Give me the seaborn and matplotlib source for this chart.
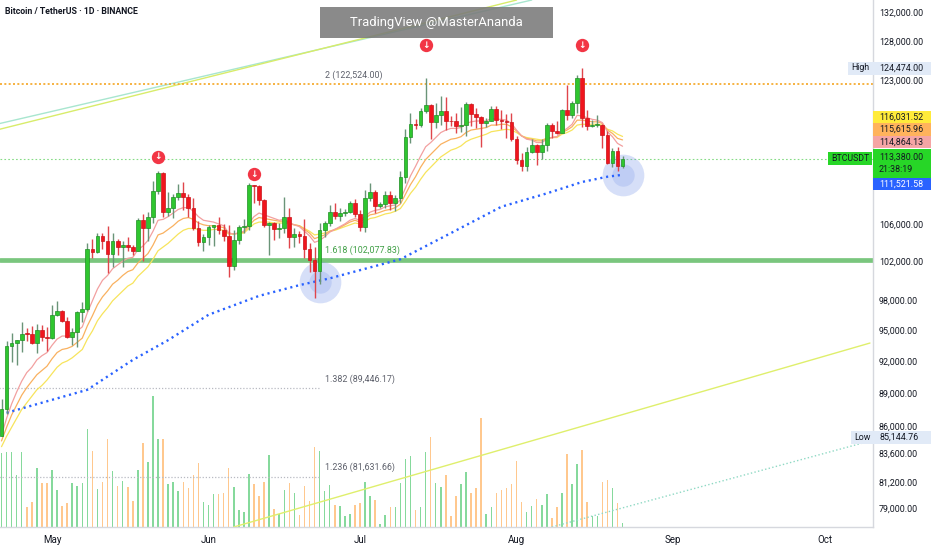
import numpy as np
import pandas as pd
import matplotlib
matplotlib.use("Agg")
import matplotlib.pyplot as plt
import matplotlib.dates as mdates
from matplotlib.patches import Rectangle
from matplotlib.ticker import FixedLocator, NullLocator
import seaborn as sns

# ===============================
# Data (BTCUSDT daily)
# ===============================
dates = pd.date_range("2025-04-21", "2025-08-22", freq="D")

opens = [
    85170, 87516, 93442, 93691, 93980, 94638, 94628, 93750, 94979, 94284,
    94207, 96492, 96910, 95891, 94315, 94748, 96802, 97032, 103241, 102971,
    104696, 104118, 102791, 104103, 103507, 103764, 103463, 103126, 106455, 105606,
    106791, 109643, 111696, 107318, 107761, 109004, 109434, 108938, 107781, 105589,
    103985, 104591, 105642, 105857, 105376, 104696, 101508, 104288, 105615, 105793,
    110295, 110257, 108686, 105929, 106090, 105472, 105553, 106794, 104551, 104886,
    104658, 103297, 102120, 100963, 105333, 106084, 107278, 106817, 107162, 107298,
    108356, 107135, 105681, 108849, 109584, 107984, 108198, 109203, 108262, 108922,
    111233, 115987, 117516, 117435, 119086, 119841, 117758, 118631, 119177, 117924,
    117840, 117265, 117380, 119954, 118755, 118340, 117614, 117919, 119416, 118062,
    117939, 117803, 115764, 113297, 112546, 114208, 115055, 114129, 114992, 117472,
    116674, 116462, 119294, 118686, 120134, 123306, 118295, 117342, 117380, 117405,
    116227, 112872, 114271, 112500,
]
highs = [
    88460, 93888, 94696, 94000, 95758, 95200, 95369, 95630, 95470, 95245,
    97437, 97895, 96939, 96318, 95199, 96888, 97732, 103971, 104361, 104984,
    105000, 105819, 104976, 104356, 104192, 104550, 103709, 106660, 107108, 107320,
    110797, 111980, 111800, 109506, 109300, 110422, 110718, 109312, 108910, 106313,
    104900, 105866, 105935, 106794, 106000, 105909, 105333, 105900, 106488, 110530,
    110400, 110384, 108780, 106182, 106200, 106128, 108952, 107750, 105550, 105226,
    106545, 103982, 103500, 106128, 106290, 108135, 108272, 107735, 107592, 108528,
    108789, 107540, 109730, 110529, 109767, 108380, 109700, 109700, 109216, 111999,
    116868, 118870, 118200, 119488, 123218, 119940, 120063, 120998, 120820, 118499,
    118856, 119676, 120247, 120090, 119450, 118451, 118297, 119766, 119800, 119273,
    118792, 118922, 116052, 114036, 114799, 115720, 115127, 115716, 117630, 117700,
    117944, 119311, 122335, 120324, 123667, 124474, 119216, 117999, 118575, 117543,
    116725, 114616, 114821, 113700,
]
lows = [
    85144.76, 87076, 91935, 91660, 92855, 93875, 93602, 92800, 93930, 92910,
    94153, 96350, 95753, 94171, 93514, 93377, 95770, 96876, 102316, 102818,
    103300, 100718, 101429, 102602, 101383, 103100, 102612, 103105, 102000, 104192,
    106100, 109285, 106800, 106876, 106600, 108670, 107516, 106812, 105322, 103621,
    103068, 103752, 103659, 104872, 104179, 100372, 101095, 103871, 105000, 105318,
    108331, 108086, 105671, 102664, 104300, 104494, 104980, 103371, 103500, 103900,
    102345, 100837, 98200, 99588, 104622, 105808, 106562, 106355, 106850, 107211,
    106733, 105250, 105100, 108530, 107245, 107800, 107800, 107513, 107429, 108324,
    110582, 115222, 116900, 117224, 118905, 115736, 117017, 117453, 116812, 117277,
    116467, 116515, 116128, 117301, 117103, 114723, 117158, 117840, 117427, 116950,
    115796, 115500, 112722, 112000, 111920, 114107, 112650, 113355, 114259, 115878,
    116299, 116461, 118050, 118207, 118920, 117180, 116803, 117172, 117172, 114640,
    112733, 112380, 112000, 112300,
]
closes = [
    87516, 93442, 93691, 93980, 94638, 94628, 93750, 94979, 94284, 94207,
    96492, 96910, 95891, 94315, 94748, 96802, 97032, 103241, 102971, 104696,
    104118, 102791, 104103, 103507, 103764, 103463, 103126, 106455, 105606, 106791,
    109643, 111696, 107318, 107761, 109004, 109434, 108938, 107781, 105589, 103985,
    104591, 105642, 105857, 105376, 104696, 101508, 104288, 105615, 105793, 110295,
    110257, 108686, 105929, 106090, 105472, 105553, 106794, 104551, 104886, 104658,
    103297, 102120, 100963, 105333, 106084, 107278, 106817, 107162, 107298, 108356,
    107135, 105681, 108849, 109584, 107984, 108198, 109203, 108262, 108922, 111233,
    115987, 117516, 117435, 119086, 119841, 117758, 118631, 119177, 117924, 117840,
    117265, 117380, 119954, 118755, 118340, 117614, 117919, 119416, 118062, 117939,
    117803, 115764, 113297, 112546, 114208, 115055, 114129, 114992, 117472, 116674,
    116462, 119294, 118686, 120134, 123306, 118295, 117342, 117380, 117405, 116227,
    112872, 114271, 112500, 113380,
]
# volume (relative units)
volumes = [
    25.0, 25.4, 25.4, 17.4, 25.4, 6.6, 8.6, 20.0, 15.0, 15.0,
    19.2, 12.4, 7.2, 8.0, 14.8, 13.8, 14.8, 33.2, 25.6, 12.8,
    15.2, 29.6, 18.8, 14.0, 15.6, 13.4, 8.8, 19.4, 28.2, 21.8,
    44.2, 29.8, 29.8, 14.6, 15.2, 12.0, 15.2, 13.2, 17.6, 21.6,
    8.6, 7.4, 11.0, 11.0, 11.6, 20.0, 13.4, 5.6, 5.0, 17.8,
    14.6, 10.6, 15.2, 24.2, 6.0, 4.4, 12.4, 14.9, 11.4, 4.2,
    13.8, 8.8, 26.9, 25.7, 12.2, 14.3, 7.4, 7.2, 3.8, 4.4,
    7.4, 8.0, 15.2, 10.6, 9.2, 1.0, 4.2, 6.6, 6.6, 14.8,
    22.8, 23.9, 5.9, 6.8, 25.4, 30.2, 14.8, 13.6, 17.6, 3.8,
    10.4, 14.6, 18.6, 11.6, 13.2, 36.8, 4.4, 6.6, 11.6, 12.6,
    13.0, 14.4, 22.4, 8.6, 5.0, 7.1, 9.4, 7.4, 11.0, 3.0,
    6.6, 11.6, 24.6, 14.4, 21.2, 26.0, 8.4, 3.8, 3.6, 15.2,
    15.8, 13.1, 8.0, 1.2,
]

# moving averages (thousands USDT)
ma_fast = [
    85.2, 86.7, 88.0, 89.1, 90.1, 90.9, 91.4, 92.1, 92.5, 92.8,
    93.5, 94.1, 94.4, 94.4, 94.5, 94.9, 95.3, 96.7, 97.9, 99.1,
    100.0, 100.5, 101.2, 101.6, 102.0, 102.3, 102.4, 103.2, 103.6, 104.2,
    105.2, 106.4, 106.5, 106.8, 107.2, 107.6, 107.8, 107.8, 107.4, 106.8,
    106.4, 106.3, 106.2, 106.0, 105.8, 105.0, 104.9, 105.0, 105.2, 106.1,
    106.8, 107.2, 107.0, 106.8, 106.6, 106.4, 106.5, 106.1, 105.9, 105.7,
    105.2, 104.7, 104.0, 104.2, 104.6, 105.1, 105.4, 105.7, 106.0, 106.4,
    106.6, 106.4, 106.8, 107.3, 107.5, 107.6, 107.9, 108.0, 108.1, 108.7,
    110.0, 111.4, 112.5, 113.7, 114.8, 115.3, 115.9, 116.5, 116.8, 117.0,
    117.0, 117.1, 117.6, 117.8, 117.9, 117.9, 117.9, 118.2, 118.1, 118.1,
    118.0, 117.6, 116.8, 116.1, 115.7, 115.6, 115.3, 115.3, 115.7, 115.9,
    116.0, 116.6, 117.0, 117.5, 118.6, 118.5, 118.3, 118.1, 118.0, 117.7,
    116.6, 116.0, 115.2, 114.86413,
]
ma_mid = [
    84.7, 85.9, 87.0, 87.9, 88.8, 89.5, 90.1, 90.7, 91.1, 91.5,
    92.2, 92.8, 93.1, 93.2, 93.4, 93.8, 94.2, 95.4, 96.4, 97.5,
    98.3, 98.9, 99.6, 100.0, 100.5, 100.9, 101.1, 101.8, 102.3, 102.8,
    103.7, 104.8, 105.0, 105.4, 105.8, 106.3, 106.6, 106.7, 106.5, 106.1,
    105.9, 105.8, 105.8, 105.7, 105.6, 105.0, 104.9, 105.0, 105.1, 105.8,
    106.4, 106.7, 106.6, 106.5, 106.4, 106.3, 106.3, 106.1, 105.9, 105.8,
    105.4, 105.0, 104.4, 104.6, 104.8, 105.2, 105.4, 105.6, 105.9, 106.2,
    106.4, 106.2, 106.6, 107.0, 107.1, 107.3, 107.5, 107.6, 107.8, 108.2,
    109.3, 110.4, 111.3, 112.4, 113.3, 113.9, 114.5, 115.1, 115.4, 115.7,
    115.8, 116.0, 116.5, 116.8, 116.9, 117.0, 117.1, 117.4, 117.4, 117.5,
    117.5, 117.2, 116.7, 116.1, 115.8, 115.7, 115.5, 115.5, 115.8, 115.9,
    116.0, 116.5, 116.8, 117.2, 118.0, 118.0, 117.9, 117.8, 117.8, 117.6,
    116.8, 116.4, 115.8, 115.61596,
]
ma_slow = [
    84.2, 85.1, 85.9, 86.7, 87.5, 88.1, 88.7, 89.3, 89.7, 90.2,
    90.8, 91.4, 91.8, 92.0, 92.3, 92.7, 93.1, 94.1, 94.9, 95.9,
    96.6, 97.2, 97.9, 98.4, 98.9, 99.4, 99.7, 100.4, 100.9, 101.4,
    102.2, 103.1, 103.5, 103.9, 104.4, 104.9, 105.3, 105.5, 105.5, 105.4,
    105.3, 105.3, 105.4, 105.4, 105.3, 104.9, 104.9, 105.0, 105.0, 105.5,
    106.0, 106.2, 106.2, 106.2, 106.1, 106.1, 106.1, 106.0, 105.9, 105.8,
    105.5, 105.2, 104.8, 104.9, 105.0, 105.2, 105.3, 105.5, 105.7, 105.9,
    106.1, 106.0, 106.3, 106.6, 106.7, 106.9, 107.1, 107.2, 107.4, 107.7,
    108.5, 109.4, 110.1, 111.0, 111.8, 112.4, 113.0, 113.6, 114.0, 114.4,
    114.6, 114.9, 115.4, 115.7, 115.9, 116.1, 116.3, 116.6, 116.7, 116.8,
    116.9, 116.8, 116.5, 116.1, 115.9, 115.8, 115.7, 115.6, 115.8, 115.9,
    115.9, 116.3, 116.5, 116.8, 117.4, 117.5, 117.5, 117.5, 117.5, 117.4,
    116.9, 116.7, 116.3, 116.03152,
]
# long moving average (blue dotted), sampled points
ma_long_dates = ["2025-04-22", "2025-05-08", "2025-05-17", "2025-05-24", "2025-06-01",
                 "2025-06-11", "2025-06-19", "2025-06-25", "2025-07-09", "2025-07-19",
                 "2025-07-29", "2025-08-07", "2025-08-14", "2025-08-19", "2025-08-22"]
ma_long = [87.2, 89.3, 92.1, 94.0, 96.5, 98.4, 99.5, 100.2, 102.2, 105.0,
           107.9, 109.4, 110.7, 111.3, 111.52158]

# fibonacci levels
fib_levels = [122524.00, 102077.83, 89446.17, 81631.66]
fib_names = ["2 (122,524.00)", "1.618 (102,077.83)", "1.382 (89,446.17)", "1.236 (81,631.66)"]
fib_label_date = "2025-06-24"
fib_short_end = "2025-06-23"

# drawn trend lines: (start date, start price, end date, end price)
trend_lines = [
    ("2025-04-20", 117500, "2025-08-04", 133600, "#a8e6cf", "-"),
    ("2025-04-20", 116800, "2025-08-01", 133600, "#d8ec6a", "-"),
    ("2025-06-06", 77490, "2025-10-10", 93720, "#dfef6c", "-"),
    ("2025-08-08", 77490, "2025-10-10", 84690, "#8fd9c4", ":"),
]

# sell signals and highlighted touches
signal_dates = ["2025-05-22", "2025-06-10", "2025-07-14", "2025-08-14"]
signal_prices = [113600, 111600, 127500, 127500]
touch_dates = ["2025-06-23", "2025-08-22"]
touch_prices = [99820, 111520]

y_ticks = [132000, 128000, 123000, 106000, 102000, 98000, 95000, 92000,
           89000, 86000, 83600, 81200, 79000]

# ===============================
# Style
# ===============================
sns.set_theme(style="white")
plt.rcParams["font.family"] = ["Roboto", "DejaVu Sans"]
TXT = "#131722"
GREEN = "#2fc62f"
RED = "#f0151d"

W, H = 932, 550
PR, PB = 873, 527  # plot right edge / bottom edge in pixels

fig = plt.figure(figsize=(W / 100, H / 100), dpi=100)
fig.patch.set_facecolor("white")
ax = fig.add_axes([0, (H - PB) / H, PR / W, PB / H])
axv = ax.twinx()
ax.set_zorder(axv.get_zorder() + 1)
ax.patch.set_visible(False)

x = mdates.date2num(dates)
o = np.array(opens, dtype=float)
h = np.array(highs, dtype=float)
l = np.array(lows, dtype=float)
c = np.array(closes, dtype=float)
up = c >= o

# volume
vol_colors = np.where(up, "#86d99c", "#ffc88e")
axv.bar(x, volumes, width=0.3, color=vol_colors, linewidth=0, zorder=1)
axv.set_ylim(0, max(volumes) * PB / 131)
axv.set_yticks([])
axv.tick_params(right=False, labelright=False)
for s in axv.spines.values():
    s.set_visible(False)

ax.set_yscale("log")
may1 = mdates.date2num(pd.Timestamp("2025-05-01"))
ax.set_xlim(may1 - 10.3, may1 + 162.6)

# trend lines
for d0, p0, d1, p1, col, ls in trend_lines:
    ax.plot(mdates.date2num(pd.to_datetime([d0, d1])), [p0, p1], color=col,
            lw=1.0, ls=ls, zorder=1)

# fib lines
ax.axhline(fib_levels[0], color="#f5a623", lw=1.2, ls=(0, (1.2, 1.4)), zorder=1.5)
ax.axhline(fib_levels[1], color="#6cc070", lw=3.4, alpha=0.9, zorder=1.5)
ax.hlines(fib_levels[2:], may1 - 12, mdates.date2num(pd.Timestamp(fib_short_end)),
          color="#b8bac2", lw=0.9, ls=(0, (1, 1.5)), zorder=1.5)
ax.axhline(c[-1], color="#86dc86", lw=0.8, ls=(0, (1.5, 2)), zorder=1.5)

lx = mdates.date2num(pd.Timestamp(fib_label_date))
for lev, name in zip(fib_levels, fib_names):
    col = "#3f9f45" if lev == fib_levels[1] else "#5d606b"
    ax.annotate(name, (lx, lev), xytext=(0, 3 if lev != fib_levels[1] else 4),
                textcoords="offset points", fontsize=6.4, color=col,
                va="bottom", ha="left", zorder=5)

# highlighted touches
tx = mdates.date2num(pd.to_datetime(touch_dates))
ax.scatter(tx, touch_prices, s=900, color="#6f8ee6", alpha=0.28, lw=0, zorder=1.8)
ax.scatter(tx, touch_prices, s=260, color="#6f8ee6", alpha=0.22, lw=0, zorder=1.8)

# moving averages
sns.lineplot(x=x, y=np.array(ma_slow) * 1000, ax=ax, color="#f7e45c", lw=0.9,
             errorbar=None, zorder=2)
sns.lineplot(x=x, y=np.array(ma_mid) * 1000, ax=ax, color="#f9b160", lw=0.9,
             errorbar=None, zorder=2)
sns.lineplot(x=x, y=np.array(ma_fast) * 1000, ax=ax, color="#f2a0a0", lw=0.9,
             errorbar=None, zorder=2)
ml_x = mdates.date2num(pd.to_datetime(ma_long_dates))
sns.lineplot(x=ml_x, y=np.array(ma_long) * 1000, ax=ax, color="#2962ff", lw=1.7,
             errorbar=None, zorder=2.5)
ax.lines[-1].set_dashes([0.9, 1.6])
ax.lines[-1].set_dash_capstyle("butt")

# candles
wick_cols = np.where(up, "#6a9478", "#e0454b")
ax.vlines(x, l, h, colors=wick_cols, lw=1.0, zorder=3)
body_lo = np.minimum(o, c)
body_h = np.maximum(np.abs(c - o), c * 0.0009)
ax.bar(x, body_h, bottom=body_lo, width=0.74,
       color=np.where(up, GREEN, RED), edgecolor=np.where(up, "#1f8f24", "#c8141a"),
       linewidth=0.5, zorder=4)

# sell signals
sx = mdates.date2num(pd.to_datetime(signal_dates))
ax.scatter(sx, signal_prices, s=92, color="#f23645", lw=0, zorder=6)
for xi, yi in zip(sx, signal_prices):
    ax.text(xi, yi, "↓", color="white", fontsize=6.5, fontweight="bold",
            ha="center", va="center", family=["DejaVu Sans"], zorder=7)

# axes
ax.set_ylim(77490, 133607)
ax.set_xlabel("")
ax.set_ylabel("")
ax.yaxis.tick_right()
ax.yaxis.set_major_locator(FixedLocator(y_ticks))
ax.yaxis.set_minor_locator(NullLocator())
ax.set_yticklabels([f"{t:,.2f}" for t in y_ticks])
ax.tick_params(axis="y", length=0, pad=4.3, labelsize=6.4, labelcolor=TXT)
ax.xaxis.set_major_locator(mdates.MonthLocator())
ax.xaxis.set_major_formatter(mdates.DateFormatter("%b"))
ax.tick_params(axis="x", length=0, pad=5.5, labelsize=7, labelcolor=TXT)
for side in ["top", "left"]:
    ax.spines[side].set_visible(False)
for side in ["right", "bottom"]:
    ax.spines[side].set_color("#d6d8de")
    ax.spines[side].set_linewidth(1.0)
ax.grid(False)


# ===============================
# Overlays in pixel space
# ===============================
def px_rect(x0, y0, x1, y1, color, alpha=1.0):
    fig.patches.append(Rectangle((x0 / W, 1 - y1 / H), (x1 - x0) / W, (y1 - y0) / H,
                                 transform=fig.transFigure, fc=color, ec="none",
                                 alpha=alpha, zorder=3))


def px_text(xp, yp, s, color=TXT, size=6.4, **kw):
    fig.text(xp / W, 1 - yp / H, s, color=color, fontsize=size, va="center", zorder=4, **kw)


px_text(5, 11, "Bitcoin / TetherUS · 1D · BINANCE", size=6.3, fontweight="bold")

px_rect(320, 7, 553, 38, "#7a7a7a", alpha=0.88)
px_text(436.5, 22.5, "TradingView @MasterAnanda", color="white", size=9.4, ha="center")

# axis tags
px_rect(848, 62, 931, 74.5, "#e1eaf7")
px_text(851, 68, "High")
px_text(879, 68, f"{max(highs):,.2f}")
px_rect(851, 431, 931, 443.5, "#e1eaf7")
px_text(854, 437, "Low")
px_text(879, 437, f"{min(lows):,.2f}")

tags = [
    (117, ma_slow[-1] * 1000, "#ffeb3b", TXT),
    (129.5, ma_mid[-1] * 1000, "#ffb35c", TXT),
    (142, ma_fast[-1] * 1000, "#f5a5a5", TXT),
    (184, ma_long[-1] * 1000, "#2962ff", "white"),
]
for yp, val, bg, fg in tags:
    px_rect(873, yp - 6.2, 931, yp + 6.2, bg)
    px_text(879, yp, f"{val:,.2f}", color=fg)

px_rect(873, 148.5, 931, 177.8, "#27d627")
px_text(879, 157.5, f"{c[-1]:,.2f}")
px_text(879, 169.5, "21:38:19")
px_rect(828, 152, 872, 165, "#27d627")
px_text(831, 158.5, "BTCUSDT", size=6.3)

fig.savefig("out.png", dpi=100, facecolor="white")
